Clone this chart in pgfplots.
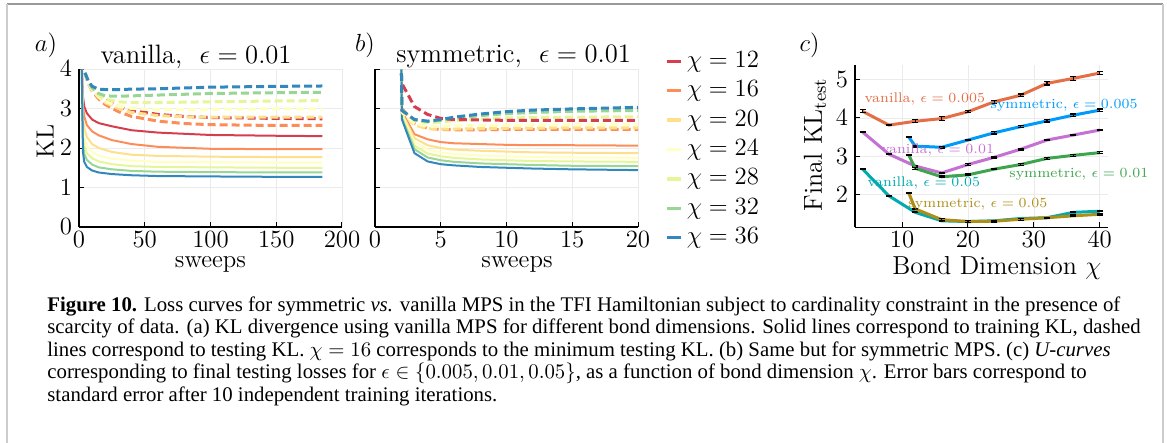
\RequirePackage{fix-cm}
\documentclass[border=0pt]{standalone}
\usepackage{fontspec}
\usepackage{pgfplots}
\pgfplotsset{compat=1.18}
\newfontfamily\capfont{Liberation Serif}
\definecolor{c12}{RGB}{213,62,79}
\definecolor{c16}{RGB}{252,141,89}
\definecolor{c20}{RGB}{254,224,139}
\definecolor{c24}{RGB}{255,255,191}
\definecolor{c28}{RGB}{230,245,152}
\definecolor{c32}{RGB}{153,213,148}
\definecolor{c36}{RGB}{50,136,189}
\definecolor{jblue}{HTML}{009AFA}
\definecolor{jorange}{HTML}{E36F47}
\definecolor{jgreen}{HTML}{3EA44E}
\definecolor{jpurple}{HTML}{C371D2}
\definecolor{jgold}{HTML}{AC8E18}
\definecolor{jteal}{HTML}{00AAAE}
\newcommand{\bigf}{\fontsize{12.4}{14}\selectfont}
\begin{document}
\begin{tikzpicture}
\useasboundingbox (0,0) rectangle (583.5pt,-221.5pt);
\draw[black!40, line width=0.7pt] (3.5pt,-2pt) -- (581.5pt,-2pt);
\draw[black!20, line width=1pt] (3.5pt,-2pt) -- (3.5pt,-221.5pt);
\draw[black!20, line width=1pt] (581.5pt,-2pt) -- (581.5pt,-221.5pt);
\pgfplotsset{
  panel/.style={scale only axis, axis lines=left, axis line style={-, line width=0.6pt},
    tick align=inside, major tick length=2.5pt, tick style={black, line width=0.5pt},
    grid=major, grid style={black!8, line width=0.3pt},
    tick label style={font=\bigf}, label style={font=\bigf},
    xticklabel style={inner sep=0.5pt, yshift=-1.6pt},
    title style={font=\fontsize{13.3}{15}\selectfont}},
  sol/.style={line width=1pt, forget plot},
  dsh/.style={line width=1.5pt, dash pattern=on 4pt off 2pt, forget plot},
  uc/.style={line width=1.5pt, forget plot,
    error bars/y dir=both, error bars/y explicit,
    error bars/error bar style={black, line width=0.6pt, solid},
    error bars/error mark options={black, rotate=90, mark size=1.5pt, line width=0.6pt}},
}
% ---------------- panel a ----------------
\begin{axis}[panel, at={(39.5pt,-113.5pt)}, anchor=south west, width=131.5pt, height=79pt,
  xmin=0, xmax=200, ymin=0, ymax=4, xtick={0,50,100,150,200}, ytick={0,1,2,3,4},
  title={vanilla,\ \ $\epsilon = 0.01$}, title style={at={(axis description cs:0.445,1)}, anchor=center},
  xlabel={sweeps}, ylabel={KL},
  xlabel style={at={(axis description cs:0.5,-0.235)}, anchor=center, inner sep=0pt},
  ylabel style={at={(axis description cs:-0.129,0.54)}, anchor=center}]
\addplot[sol, c12] coordinates {(2,4.2)(3,3.3)(4,3.05)(6,2.88)(10,2.72)(15,2.63)(25,2.55)(40,2.45)(60,2.39)(100,2.33)(150,2.31)(185,2.30)};
\addplot[sol, c16] coordinates {(2,4.2)(3,3.05)(4,2.8)(6,2.58)(10,2.42)(15,2.32)(25,2.2)(40,2.1)(60,2.03)(100,1.98)(150,1.97)(185,1.97)};
\addplot[sol, c20] coordinates {(2,4.2)(3,2.75)(4,2.5)(6,2.28)(10,2.1)(15,2.0)(25,1.9)(40,1.83)(60,1.8)(100,1.78)(150,1.77)(185,1.77)};
\addplot[sol, c24] coordinates {(2,4.2)(3,2.5)(4,2.25)(6,2.05)(10,1.9)(15,1.81)(25,1.73)(40,1.68)(60,1.65)(100,1.64)(150,1.63)(185,1.63)};
\addplot[sol, c28] coordinates {(2,4.2)(3,2.3)(4,2.05)(6,1.87)(10,1.74)(15,1.66)(25,1.59)(40,1.54)(60,1.52)(100,1.51)(150,1.50)(185,1.50)};
\addplot[sol, c32] coordinates {(2,4.2)(3,2.1)(4,1.85)(6,1.7)(10,1.58)(15,1.51)(25,1.46)(40,1.42)(60,1.40)(100,1.39)(150,1.38)(185,1.38)};
\addplot[sol, c36] coordinates {(2,4.2)(3,1.9)(4,1.65)(6,1.52)(10,1.43)(15,1.38)(25,1.34)(40,1.31)(60,1.29)(100,1.28)(150,1.27)(185,1.27)};
\addplot[dsh, c16] coordinates {(3,4.2)(4,3.95)(7,3.64)(10,3.44)(15,3.24)(20,3.1)(30,2.92)(40,2.8)(60,2.68)(80,2.62)(100,2.59)(150,2.57)(185,2.57)};
\addplot[dsh, c12] coordinates {(3,4.2)(4,3.95)(7,3.66)(10,3.48)(15,3.32)(20,3.2)(30,3.05)(40,2.95)(60,2.85)(80,2.8)(100,2.77)(150,2.75)(185,2.74)};
\addplot[dsh, c20] coordinates {(3,4.2)(4,3.95)(7,3.65)(10,3.46)(15,3.28)(20,3.15)(30,3.0)(40,2.9)(60,2.82)(80,2.79)(100,2.78)(150,2.78)(185,2.78)};
\addplot[dsh, c24] coordinates {(3,4.2)(4,3.95)(7,3.66)(10,3.48)(15,3.3)(20,3.18)(30,3.06)(40,3.0)(60,2.97)(80,2.97)(100,2.98)(150,2.99)(185,2.99)};
\addplot[dsh, c28] coordinates {(3,4.2)(4,3.95)(7,3.68)(10,3.5)(15,3.33)(20,3.24)(30,3.17)(40,3.15)(60,3.15)(80,3.16)(100,3.17)(150,3.19)(185,3.2)};
\addplot[dsh, c32] coordinates {(3,4.2)(4,3.95)(7,3.7)(10,3.52)(15,3.38)(20,3.32)(30,3.31)(40,3.32)(60,3.34)(80,3.36)(100,3.38)(150,3.4)(185,3.41)};
\addplot[dsh, c36] coordinates {(3,4.2)(4,3.95)(7,3.7)(10,3.56)(15,3.49)(20,3.48)(30,3.48)(40,3.49)(60,3.5)(80,3.52)(100,3.54)(150,3.56)(185,3.57)};
\end{axis}
% ---------------- panel b ----------------
\begin{axis}[panel, at={(187.5pt,-113.5pt)}, anchor=south west, width=131.5pt, height=79pt,
  xmin=0, xmax=20, ymin=0, ymax=4, xtick={0,5,10,15,20}, ytick={0,1,2,3,4}, yticklabels={},
  title={symmetric,\ \ $\epsilon = 0.01$}, title style={at={(axis description cs:1,1)}, anchor=east},
  xlabel={sweeps},
  xlabel style={at={(axis description cs:0.54,-0.235)}, anchor=center, inner sep=0pt},
  legend style={at={(axis description cs:1.1027,1.146)}, anchor=north west, draw=none, fill=none,
    inner sep=0pt, row sep=-0.3pt, font=\bigf,
    nodes={text height=8.5pt, text depth=2.5pt, inner sep=2pt}},
  legend cell align=left,
  legend image code/.code={\draw[#1, line width=1.7pt] (0pt,0pt) -- (7pt,0pt);}]
\addlegendimage{c12}\addlegendentry{$\chi = 12$}
\addlegendimage{c16}\addlegendentry{$\chi = 16$}
\addlegendimage{c20}\addlegendentry{$\chi = 20$}
\addlegendimage{c24}\addlegendentry{$\chi = 24$}
\addlegendimage{c28}\addlegendentry{$\chi = 28$}
\addlegendimage{c32}\addlegendentry{$\chi = 32$}
\addlegendimage{c36}\addlegendentry{$\chi = 36$}
\addplot[sol, c16] coordinates {(2,4.2)(2.05,2.92)(3,2.35)(4,2.22)(5,2.15)(6,2.12)(8,2.1)(10,2.08)(12,2.07)(15,2.07)(20,2.06)};
\addplot[sol, c20] coordinates {(2,4.2)(2.05,2.88)(3,2.25)(4,2.07)(5,2.0)(6,1.96)(8,1.93)(10,1.91)(12,1.89)(15,1.88)(20,1.87)};
\addplot[sol, c24] coordinates {(2,4.2)(2.05,2.84)(3,2.15)(4,1.96)(5,1.89)(6,1.85)(8,1.81)(10,1.79)(12,1.77)(15,1.76)(20,1.75)};
\addplot[sol, c28] coordinates {(2,4.2)(2.05,2.8)(3,2.06)(4,1.86)(5,1.79)(6,1.75)(8,1.71)(10,1.69)(12,1.67)(15,1.66)(20,1.65)};
\addplot[sol, c32] coordinates {(2,4.2)(2.05,2.76)(3,1.97)(4,1.76)(5,1.69)(6,1.65)(8,1.61)(10,1.59)(12,1.57)(15,1.55)(20,1.54)};
\addplot[sol, c36] coordinates {(2,4.2)(2.05,2.72)(3,1.87)(4,1.66)(5,1.59)(6,1.56)(8,1.52)(10,1.5)(12,1.48)(15,1.46)(20,1.44)};
\addplot[dsh, c16] coordinates {(2,4.2)(2.05,3.0)(3,2.62)(4,2.5)(5,2.47)(6,2.46)(8,2.46)(10,2.47)(15,2.47)(20,2.47)};
\addplot[dsh, c20] coordinates {(2,4.2)(2.05,2.9)(3,2.58)(4,2.49)(5,2.48)(6,2.48)(8,2.49)(10,2.5)(15,2.51)(20,2.51)};
\addplot[dsh, c24] coordinates {(2,4.2)(2.05,2.92)(3,2.62)(4,2.55)(5,2.55)(6,2.56)(8,2.57)(10,2.58)(15,2.59)(20,2.6)};
\addplot[dsh, c28] coordinates {(2,4.2)(2.05,2.95)(3,2.7)(4,2.64)(5,2.66)(6,2.69)(8,2.73)(10,2.76)(12,2.77)(15,2.78)(20,2.79)};
\addplot[dsh, c32] coordinates {(2,4.2)(2.05,2.95)(3,2.72)(4,2.67)(5,2.7)(6,2.75)(8,2.82)(10,2.87)(12,2.9)(15,2.93)(20,2.95)};
\addplot[dsh, c12] coordinates {(2.1,3.6)(3,3.05)(4,2.85)(5,2.75)(6,2.72)(8,2.71)(10,2.7)(15,2.7)(20,2.7)};
\addplot[dsh, c36] coordinates {(2,4.2)(2.05,2.95)(3,2.72)(4,2.68)(5,2.72)(6,2.78)(8,2.86)(10,2.92)(12,2.96)(15,2.99)(20,3.03)};
\end{axis}
% ---------------- panel c ----------------
\begin{axis}[panel, at={(427.5pt,-113.65pt)}, anchor=south west, width=126.65pt, height=81.15pt,
  xmin=2.85, xmax=41.3, ymin=1.14, ymax=5.38, xtick={10,20,30,40}, ytick={2,3,4,5}, clip=false,
  xlabel={Bond Dimension $\chi$}, ylabel={Final $\mathrm{KL}_{\mathrm{test}}$},
  label style={font=\fontsize{13}{15}\selectfont},
  xlabel style={at={(axis description cs:0.56,-0.25)}, anchor=center},
  ylabel style={at={(axis description cs:-0.158,0.51)}, anchor=center}]
\addplot[uc, jorange] coordinates {(4,4.17)+-(0,0.04) (8,3.81)+-(0,0.02) (12,3.91)+-(0,0.04) (16,3.98)+-(0,0.05) (20,4.16)+-(0,0.03) (24,4.42)+-(0,0.04) (28,4.59)+-(0,0.03) (32,4.9)+-(0,0.04) (36,5.03)+-(0,0.05) (40,5.17)+-(0,0.04)};
\addplot[uc, jblue] coordinates {(11,3.5)+-(0,0.02) (12,3.26)+-(0,0.02) (16,3.23)+-(0,0.02) (20,3.42)+-(0,0.02) (24,3.61)+-(0,0.03) (28,3.77)+-(0,0.03) (32,3.92)+-(0,0.03) (36,4.07)+-(0,0.03) (40,4.2)+-(0,0.03)};
\addplot[uc, jpurple] coordinates {(4,3.63)+-(0,0.01) (8,3.05)+-(0,0.01) (12,2.74)+-(0,0.02) (16,2.56)+-(0,0.02) (20,2.78)+-(0,0.03) (24,2.97)+-(0,0.02) (28,3.18)+-(0,0.02) (32,3.42)+-(0,0.02) (36,3.55)+-(0,0.02) (40,3.68)+-(0,0.02)};
\addplot[uc, jgreen] coordinates {(11,3.03)+-(0,0.01) (12,2.68)+-(0,0.03) (16,2.46)+-(0,0.02) (20,2.51)+-(0,0.02) (24,2.66)+-(0,0.01) (28,2.78)+-(0,0.02) (32,2.94)+-(0,0.02) (36,3.02)+-(0,0.02) (40,3.09)+-(0,0.02)};
\addplot[uc, jteal] coordinates {(4,2.66)+-(0,0.01) (8,1.96)+-(0,0.01) (12,1.53)+-(0,0.01) (16,1.31)+-(0,0.02) (20,1.29)+-(0,0.01) (24,1.31)+-(0,0.01) (28,1.37)+-(0,0.01) (32,1.39)+-(0,0.01) (36,1.53)+-(0,0.01) (40,1.56)+-(0,0.01)};
\addplot[uc, jgold] coordinates {(11,2.04)+-(0,0.01) (12,1.62)+-(0,0.02) (16,1.34)+-(0,0.03) (20,1.29)+-(0,0.02) (24,1.3)+-(0,0.02) (28,1.35)+-(0,0.03) (32,1.39)+-(0,0.01) (36,1.44)+-(0,0.02) (40,1.48)+-(0,0.02)};
\node[text=jorange, font=\fontsize{7}{8}\selectfont] at (axis cs:13.46,4.49) {vanilla, $\epsilon = 0.005$};
\node[text=jblue, font=\fontsize{7}{8}\selectfont] at (axis cs:34.6,4.33) {symmetric, $\epsilon = 0.005$};
\node[text=jpurple, font=\fontsize{7}{8}\selectfont] at (axis cs:15.43,3.16) {vanilla, $\epsilon = 0.01$};
\node[text=jgreen, font=\fontsize{7}{8}\selectfont] at (axis cs:36.83,2.53) {symmetric, $\epsilon = 0.01$};
\node[text=jteal, font=\fontsize{7}{8}\selectfont] at (axis cs:13.31,2.29) {vanilla, $\epsilon = 0.05$};
\node[text=jgold, font=\fontsize{7}{8}\selectfont] at (axis cs:21.5,1.75) {symmetric, $\epsilon = 0.05$};
\end{axis}
% ---------------- panel letters ----------------
\node[font=\bigf] at (23pt,-22.5pt) {$a)$};
\node[font=\bigf] at (182.5pt,-22.5pt) {$b)$};
\node[font=\bigf] at (404.8pt,-22.5pt) {$c)$};
% ---------------- caption ----------------
\node[anchor=base west, inner sep=0pt, align=left, font=\capfont\fontsize{10.4}{11.2}\selectfont] at (23.5pt,-200.5pt)
{\textbf{Figure 10.} Loss curves for symmetric \textit{vs.} vanilla MPS in the TFI Hamiltonian subject to cardinality constraint in the presence of\\
scarcity of data. (a) KL divergence using vanilla MPS for different bond dimensions. Solid lines correspond to training KL, dashed\\
lines correspond to testing KL. $\chi = 16$ corresponds to the minimum testing KL. (b) Same but for symmetric MPS. (c) \textit{U-curves}\\
corresponding to final testing losses for $\epsilon \in \{0.005, 0.01, 0.05\}$, as a function of bond dimension $\chi$. Error bars correspond to\\
standard error after 10 independent training iterations.};
\end{tikzpicture}
\end{document}
